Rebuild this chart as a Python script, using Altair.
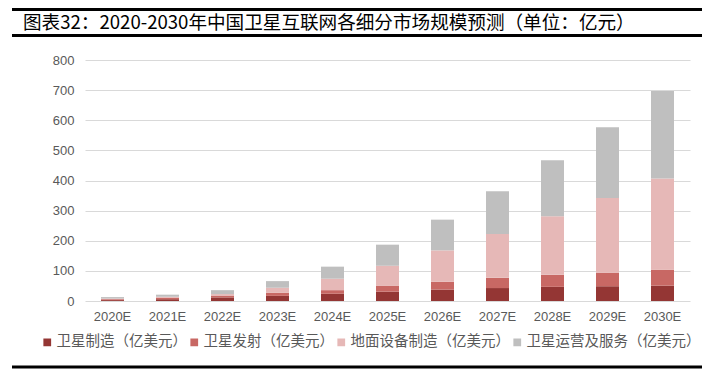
import altair as alt
import pandas as pd

years = ["2020E", "2021E", "2022E", "2023E", "2024E", "2025E", "2026E", "2027E", "2028E", "2029E", "2030E"]
series = ["卫星制造（亿美元）", "卫星发射（亿美元）", "地面设备制造（亿美元）", "卫星运营及服务（亿美元）"]
manufacturing = [3, 6, 12, 17, 24, 31, 38, 43, 47, 49, 51]
launch = [3, 5, 6, 10, 12, 19, 26, 34, 40, 45, 53]
ground = [2, 3, 5, 17, 38, 67, 104, 145, 194, 248, 303]
operations = [5, 7, 13, 22, 40, 70, 102, 142, 186, 235, 290]
colors = ["#943634", "#C86864", "#E6B8B7", "#BFBFBF"]
title_text = "图表32：2020-2030年中国卫星互联网各细分市场规模预测（单位：亿元）"

rows = []
for si, (name, vals) in enumerate(zip(series, [manufacturing, launch, ground, operations])):
    for y, v in zip(years, vals):
        rows.append({"year": y, "series": name, "value": v, "idx": si})
df = pd.DataFrame(rows)

W, H = 605, 241

bars = alt.Chart(df).mark_bar(size=23).encode(
    x=alt.X("year:N", sort=years, title=None,
            scale=alt.Scale(paddingInner=0.58, paddingOuter=0.29),
            axis=alt.Axis(labelAngle=0, ticks=False, domain=False, grid=False,
                          labelFont="Liberation Sans", labelFontSize=13,
                          labelColor="#595959", labelPadding=9)),
    y=alt.Y("value:Q", stack="zero", title=None,
            scale=alt.Scale(domain=[0, 800]),
            axis=alt.Axis(values=list(range(0, 801, 100)), ticks=False, domain=False,
                          gridColor="#D9D9D9", gridWidth=1,
                          labelFont="Liberation Sans", labelFontSize=13,
                          labelColor="#595959", labelPadding=11)),
    color=alt.Color("series:N", sort=series,
                    scale=alt.Scale(domain=series, range=colors),
                    legend=alt.Legend(title=None, orient="none", direction="horizontal",
                                      legendX=-45, legendY=275,
                                      symbolType="square", symbolSize=60,
                                      symbolStrokeWidth=0, symbolOffset=0,
                                      labelFont="Noto Sans CJK SC", labelFontSize=14.5,
                                      labelColor="#595959", labelOffset=2,
                                      labelLimit=400,
                                      columnPadding=0, columns=4)),
    order=alt.Order("idx:Q", sort="ascending"),
)

line_df = pd.DataFrame({"k": [0]})
top_line = alt.Chart(line_df).mark_rule(color="black", strokeWidth=3).encode(
    x=alt.value(-73), x2=alt.value(617), y=alt.value(-50.5))
mid_line = alt.Chart(line_df).mark_rule(color="black", strokeWidth=3).encode(
    x=alt.value(-73), x2=alt.value(617), y=alt.value(-24.5))
bot_line = alt.Chart(line_df).mark_rule(color="black", strokeWidth=3).encode(
    x=alt.value(-73), x2=alt.value(617), y=alt.value(307))
title_mark = alt.Chart(pd.DataFrame({"t": [title_text]})).mark_text(
    align="left", baseline="middle", font="Noto Sans CJK SC", fontSize=18.6,
    color="black").encode(text="t:N", x=alt.value(-62), y=alt.value(-37))

chart = alt.layer(bars, top_line, mid_line, bot_line, title_mark).properties(
    width=W, height=H,
    autosize=alt.AutoSizeParams(type="none"),
    padding={"left": 77, "top": 52, "right": 13, "bottom": 68},
).configure_view(stroke=None)

chart.save("out.html", embed_options={"renderer": "svg", "actions": False})
